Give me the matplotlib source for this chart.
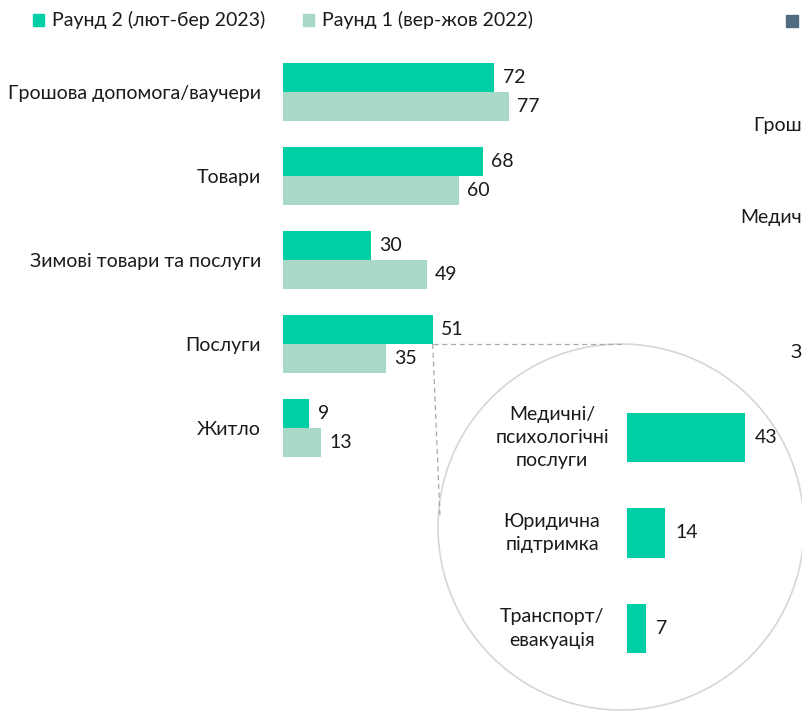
import matplotlib
matplotlib.use("Agg")
import matplotlib.pyplot as plt
from matplotlib.patches import Circle, Rectangle
import numpy as np

plt.rcParams['font.family'] = ['Lato', 'DejaVu Sans']

# ---- data ----
categories = ["Грошова допомога/ваучери", "Товари", "Зимові товари та послуги", "Послуги", "Житло"]
round2 = [72, 68, 30, 51, 9]
round1 = [77, 60, 49, 35, 13]
series_labels = ["Раунд 2 (лют-бер 2023)", "Раунд 1 (вер-жов 2022)"]

sub_categories = ["Медичні/\nпсихологічні\nпослуги", "Юридична\nпідтримка", "Транспорт/\nевакуація"]
sub_values = [43, 14, 7]

# visible fragments of the neighbouring (cropped) chart's labels
cut_labels = ["Грош", "Медич", "З"]

C_DARK = "#00CFA5"
C_LIGHT = "#A8D8C8"
C_SLATE = "#506B7F"
C_TEXT = "#1a1a1a"
FS = 14

W, H = 803, 713
fig = plt.figure(figsize=(W / 100, H / 100), dpi=100)

def px_axes(x0, y0, x1, y1, **kw):
    return fig.add_axes([x0 / W, 1 - y1 / H, (x1 - x0) / W, (y1 - y0) / H], **kw)

# overlay in pixel coords
ov = fig.add_axes([0, 0, 1, 1], zorder=0)
ov.set_xlim(0, W)
ov.set_ylim(H, 0)
ov.axis("off")

# ---- main chart ----
ax = px_axes(283, 50, 283 + 100 * 2.935, 470, zorder=2)
ax.patch.set_alpha(0)
y = np.arange(len(categories))
bh = 29 / 84
ax.barh(y - bh / 2, round2, height=bh, color=C_DARK, label=series_labels[0])
ax.barh(y + bh / 2, round1, height=bh, color=C_LIGHT, label=series_labels[1])
ax.set_xlim(0, 100)
ax.set_ylim(4.5, -0.5)
ax.set_yticks(y)
ax.set_yticklabels(categories, fontsize=FS, color=C_TEXT)
ax.tick_params(axis="y", length=0, pad=16)
ax.set_xticks([])
for s in ax.spines.values():
    s.set_visible(False)
for i in range(len(categories)):
    ax.annotate(str(round2[i]), (round2[i], y[i] - bh / 2), xytext=(6, 0), textcoords="offset points",
                ha="left", va="center", fontsize=FS, color=C_TEXT)
    ax.annotate(str(round1[i]), (round1[i], y[i] + bh / 2), xytext=(6, 0), textcoords="offset points",
                ha="left", va="center", fontsize=FS, color=C_TEXT)

# ---- inset chart ----
ax2 = px_axes(627, 437.5 - 0.6 * 95.5, 627 + 50 * 2.744, 437.5 + 2.6 * 95.5, zorder=2)
ax2.patch.set_alpha(0)
y2 = np.arange(len(sub_categories))
bh2 = 49 / 95.5
ax2.barh(y2, sub_values, height=bh2, color=C_DARK)
ax2.set_xlim(0, 50)
ax2.set_ylim(2.6, -0.6)
ax2.axis("off")
for i, (lab, v) in enumerate(zip(sub_categories, sub_values)):
    ax2.annotate(lab, (0, y2[i]), xytext=(-75 * 0.72, 0), textcoords="offset points",
                 ha="center", va="center", multialignment="center", fontsize=FS,
                 color=C_TEXT, linespacing=1.45)
    ax2.annotate(str(v), (v, y2[i]), xytext=(7, 0), textcoords="offset points",
                 ha="left", va="center", fontsize=FS, color=C_TEXT)

# ---- circle and dashed connectors ----
fig.canvas.draw()
cx, cy, r = 621, 527, 183
ov.add_patch(Circle((cx, cy), r, fill=False, edgecolor="#d6d6d6", linewidth=1.2))
# connector start: end of "Послуги" round 2 bar, at boundary between its two bars
p = ax.transData.transform((round2[3], y[3]))
sx, sy = p[0], H - p[1]
ov.plot([sx, cx], [sy, cy - r], ls=(0, (4, 3)), color="#a8a8a8", lw=0.9)
ov.plot([sx, cx - r + 2], [sy, cy - 10], ls=(0, (4, 3)), color="#a8a8a8", lw=0.9)

# ---- legend ----
ov.add_patch(Rectangle((33, 14), 11, 12, color=C_DARK))
ov.text(52, 20, series_labels[0], fontsize=FS, color=C_TEXT, va="center", ha="left")
ov.add_patch(Rectangle((303, 14), 11, 12, color=C_LIGHT))
ov.text(322, 20, series_labels[1], fontsize=FS, color=C_TEXT, va="center", ha="left")
ov.add_patch(Rectangle((786, 15), 12, 12, color=C_SLATE))

# ---- cut-off labels of neighbouring chart ----
ov.text(802, 125, cut_labels[0], fontsize=FS, color=C_TEXT, va="center", ha="right")
ov.text(802, 217, cut_labels[1], fontsize=FS, color=C_TEXT, va="center", ha="right")
ov.text(802, 352, cut_labels[2], fontsize=FS, color=C_TEXT, va="center", ha="right")

fig.savefig("out.png", dpi=100)
